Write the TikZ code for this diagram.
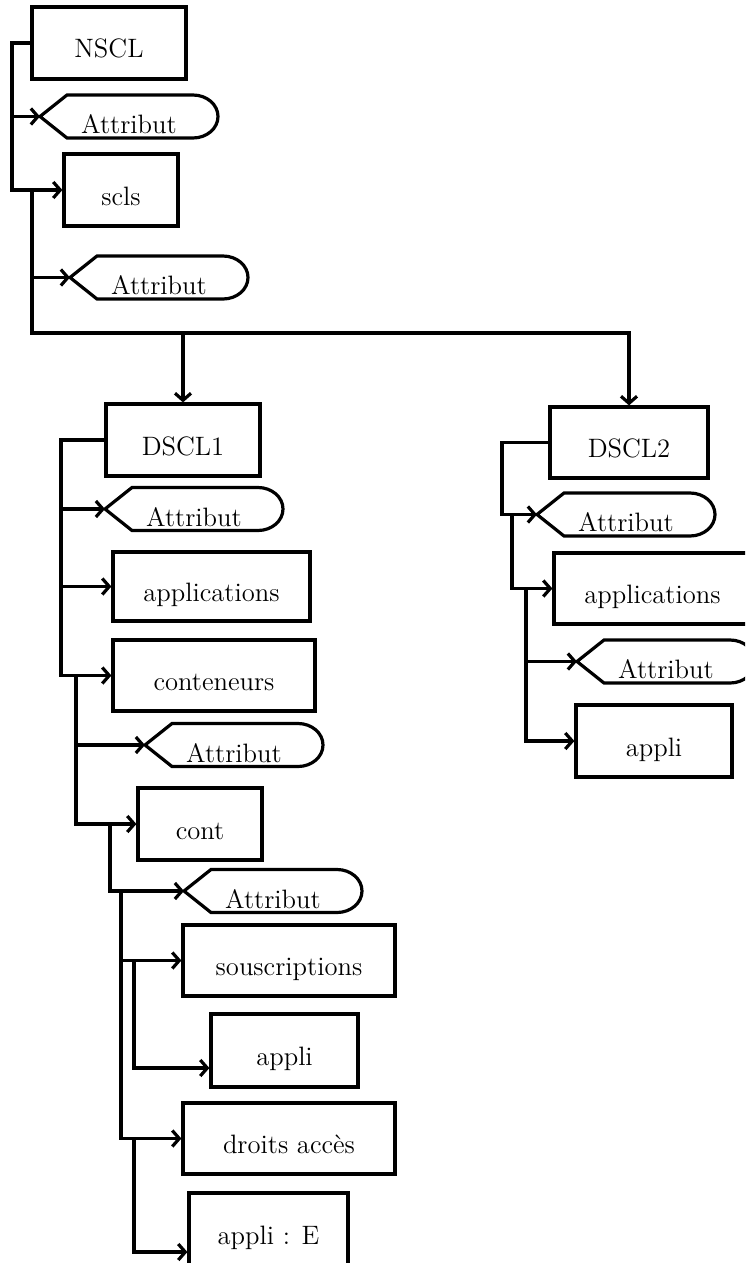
\documentclass[tikz,border=0pt]{standalone}
\usepackage{tikz}
\usetikzlibrary{arrows.meta}

\begin{document}
\begin{tikzpicture}[x=0.5pt, y=-0.5pt, line width=1.6pt, >={Straight Barb[length=3.5pt,width=8pt]},
	every node/.style={font=\fontsize{13.3}{15}\selectfont},
	box/.style 2 args={draw, minimum width=#1*0.5pt, minimum height=#2*0.5pt, inner sep=0pt, text height=15pt, text depth=0pt},
	attr/.style={minimum width=89pt, minimum height=21.5pt, inner sep=0pt, outer sep=0pt, text height=17pt, text depth=0pt}]
	\useasboundingbox (0,0) rectangle (745,1263);
	\clip (0,0) rectangle (745,1263);
	% root
	\node[box={154}{72}] (nscl) at (109,43) {NSCL};
	\node[attr] (at1) at (129,116.5) {Attribut};
	\node[box={114}{72}] (scls) at (121,190) {scls};
	\node[attr] (at2) at (159,277.5) {Attribut};
	% left branch
	\node[box={154}{72}] (dscl1) at (183,440) {DSCL1};
	\node[attr] (at3) at (194,509) {Attribut};
	\node[box={197}{69}] (apps1) at (211.5,586.5) {applications};
	\node[box={202}{71}] (conten) at (214,675.5) {conteneurs};
	\node[attr] (at4) at (234,745) {Attribut};
	\node[box={124}{72}] (cont) at (200,824) {cont};
	\node[attr] (at5) at (273,891) {Attribut};
	\node[box={212}{71}] (souscr) at (289,960.5) {souscriptions};
	\node[box={147}{73}] (appli1) at (284.5,1050.5) {appli};
	\node[box={212}{71}] (droits) at (289,1138.5) {droits accès};
	\node[box={159}{72}] (appliE) at (268.5,1229) {appli : E};
	% right branch
	\node[box={158}{71}] (dscl2) at (629,442.5) {DSCL2};
	\node[attr] (at6) at (626,514.5) {Attribut};
	\node[box={197}{71}] (apps2) at (652.5,588.5) {applications};
	\node[attr] (at7) at (666,661.5) {Attribut};
	\node[box={156}{72}] (appli2) at (654,741) {appli};
	\foreach \a in {at1,at2,at3,at4,at5,at6,at7}
		\draw (\a.west) -- ([xshift=13.5pt]\a.north west) -- ([xshift=-12.5pt]\a.north east)
			arc[start angle=90, end angle=-90, x radius=12.5pt, y radius=10.75pt]
			-- ([xshift=13.5pt]\a.south west) -- cycle;
	% trunks
	\coordinate (t1) at (12,0);
	\coordinate (bus) at (32,333);
	\coordinate (t3) at (61,0);
	\coordinate (t4) at (76,0);
	\coordinate (t5) at (110,0);
	\coordinate (t6) at (121,0);
	\coordinate (t7) at (134,0);
	\coordinate (t8) at (502,0);
	\coordinate (t9) at (512,0);
	\coordinate (t10) at (526,0);
	\draw[->] (nscl.west) -| (scls.west -| t1) -- (scls.west);
	\draw[->] (at1.west -| t1) -- (at1.west);
	\draw[->] (scls.west -| bus) -- (bus) -| (dscl2.north);
	\draw[->] (bus -| dscl1.north) -- (dscl1.north);
	\draw[->] (at2.west -| bus) -- (at2.west);
	\draw[->] (dscl1.west) -| (conten.west -| t3) -- (conten.west);
	\draw[->] (at3.west -| t3) -- (at3.west);
	\draw[->] (apps1.west -| t3) -- (apps1.west);
	\draw[->] (conten.west -| t4) |- (cont.west);
	\draw[->] (at4.west -| t4) -- (at4.west);
	\draw[->] (cont.west -| t5) |- (at5.west);
	\draw[->] (at5.west -| t6) |- (droits.west);
	\draw[->] (souscr.west -| t6) -- (souscr.west);
	\draw[->] (souscr.west -| t7) |- ([yshift=-8.75pt]appli1.west);
	\draw[->] (droits.west -| t7) |- ([yshift=-11.5pt]appliE.west);
	\draw[->] (dscl2.west) -| (at6.west -| t8) -- (at6.west);
	\draw[->] (at6.west -| t9) |- (apps2.west);
	\draw[->] (apps2.west -| t10) |- (appli2.west);
	\draw[->] (at7.west -| t10) -- (at7.west);
\end{tikzpicture}
\end{document}
